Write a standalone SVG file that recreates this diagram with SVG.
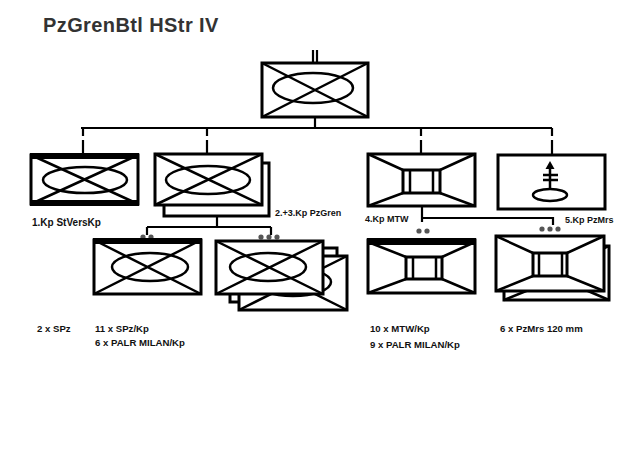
<svg xmlns="http://www.w3.org/2000/svg" width="640" height="452" viewBox="0 0 640 452">
<style>
.b{fill:#fff;stroke:#000;stroke-width:3}
.l{fill:none;stroke:#000;stroke-width:2.5}
.c{fill:none;stroke:#000;stroke-width:2.2}
.bar{fill:#000}
.d{fill:#555}
.t{font-family:"Liberation Sans",Arial,sans-serif;font-weight:bold;font-size:9px;fill:#111}
.s{font-family:"Liberation Sans",Arial,sans-serif;font-weight:bold;font-size:9.6px;fill:#111}
.title{font-family:"Liberation Sans",Arial,sans-serif;font-weight:bold;font-size:20px;letter-spacing:0.4px;fill:#333}
</style>
<rect width="640" height="452" fill="#fff"/>
<text class="title" x="43" y="32">PzGrenBtl HStr IV</text>

<g id="connectors">
<path class="c" d="M313 50V62M317 50V62"/>
<path class="c" d="M315 118V128M81 128H552"/>
<path class="c" d="M83 128V136M83 140V153M207 128V136M207 140V153M421 128V136M421 140V153M552 128V136M552 140V154"/>
<path class="c" d="M217 217V227M147 227H271M147 227V235M271 227V235"/>
<path class="c" d="M422 207V222M422 218H553V225"/>
<g class="d">
<circle cx="143" cy="237" r="2.6"/><circle cx="151" cy="237" r="2.6"/>
<circle cx="261" cy="237" r="2.6"/><circle cx="269" cy="237" r="2.6"/><circle cx="277" cy="237" r="2.6"/>
<circle cx="419" cy="231" r="2.6"/><circle cx="427" cy="231" r="2.6"/>
<circle cx="542" cy="229" r="2.6"/><circle cx="550" cy="229" r="2.6"/><circle cx="558" cy="229" r="2.6"/>
</g>
</g>

<g id="bn">
<rect class="b" x="262" y="63" width="106" height="54"/>
<path class="l" d="M262 63L368 117M368 63L262 117"/>
<ellipse class="l" cx="313" cy="88" rx="40" ry="15"/>
</g>

<g id="kp1">
<rect class="b" x="31" y="155" width="107" height="49"/>
<rect class="bar" x="30" y="153" width="109" height="6"/>
<rect class="bar" x="30" y="200" width="109" height="6"/>
<path class="l" d="M31 155L138 204M138 155L31 204"/>
<ellipse class="l" cx="85" cy="180" rx="42" ry="13"/>
<text class="t" x="32" y="226" style="font-size:10px">1.Kp StVersKp</text>
</g>

<g id="kp23">
<rect class="b" x="164" y="163" width="105" height="53"/>
<rect class="b" x="155" y="154" width="107" height="51"/>
<path class="l" d="M155 154L262 205M262 154L155 205"/>
<ellipse class="l" cx="208" cy="180" rx="42" ry="14"/>
<text class="t" x="275" y="216">2.+3.Kp PzGren</text>
</g>

<g id="kp4">
<rect class="b" x="368" y="154" width="107" height="52"/>
<rect class="b" x="403" y="170" width="37" height="23"/>
<path class="l" d="M368 154L403 170M475 154L440 170M368 206L403 193M475 206L440 193M410 170V193M433 170V193"/>
<text class="t" x="365" y="222">4.Kp MTW</text>
</g>

<g id="kp5">
<rect class="b" x="498" y="155" width="107" height="54"/>
<path class="l" d="M550 168V190M543 175H558M543 180H558"/>
<path d="M550 161L545.5 169H554.5Z" fill="#000"/>
<ellipse class="l" cx="550" cy="195" rx="17" ry="6"/>
<text class="t" x="565" y="223">5.Kp PzMrs</text>
</g>

<g id="zug1">
<rect class="b" x="94" y="240" width="107" height="54"/>
<rect class="bar" x="93" y="238" width="109" height="6"/>
<path class="l" d="M94 240L201 294M201 240L94 294"/>
<ellipse class="l" cx="150" cy="267" rx="38" ry="14"/>
</g>

<g id="zug3">
<rect class="b" x="230" y="248" width="107" height="54"/>
<rect class="b" x="239" y="256" width="108" height="54"/>
<path class="l" d="M239 256L347 310M347 256L239 310"/>
<ellipse class="l" cx="293" cy="282" rx="38" ry="14"/>
<rect class="b" x="216" y="241" width="107" height="53"/>
<path class="l" d="M216 241L323 294M323 241L216 294"/>
<ellipse class="l" cx="268" cy="267" rx="38" ry="14"/>
</g>

<g id="mtw2">
<rect class="b" x="368" y="240" width="107" height="53"/>
<rect class="bar" x="367" y="238" width="109" height="7"/>
<rect class="b" x="406" y="257" width="36" height="22"/>
<path class="l" d="M368 242L406 257M475 242L442 257M368 293L406 279M475 293L442 279M413 257V279M436 257V279"/>
</g>

<g id="mrs2">
<rect class="b" x="504" y="246" width="105" height="54"/>
<path class="l" d="M504 246L541 263M609 246L574 263M504 300L541 285M609 300L574 285"/>
<rect class="b" x="496" y="236" width="108" height="55"/>
<rect class="b" x="533" y="253" width="34" height="23"/>
<path class="l" d="M496 236L533 253M604 236L567 253M496 291L533 276M604 291L567 276M539 253V276M562 253V276"/>
</g>

<g id="texts">
<text class="s" x="37" y="332">2 x SPz</text>
<text class="s" x="95" y="332">11 x SPz/Kp</text>
<text class="s" x="95" y="346">6 x PALR MILAN/Kp</text>
<text class="s" x="370" y="332">10 x MTW/Kp</text>
<text class="s" x="370" y="348">9 x PALR MILAN/Kp</text>
<text class="s" x="500" y="332">6 x PzMrs 120 mm</text>
</g>
</svg>
